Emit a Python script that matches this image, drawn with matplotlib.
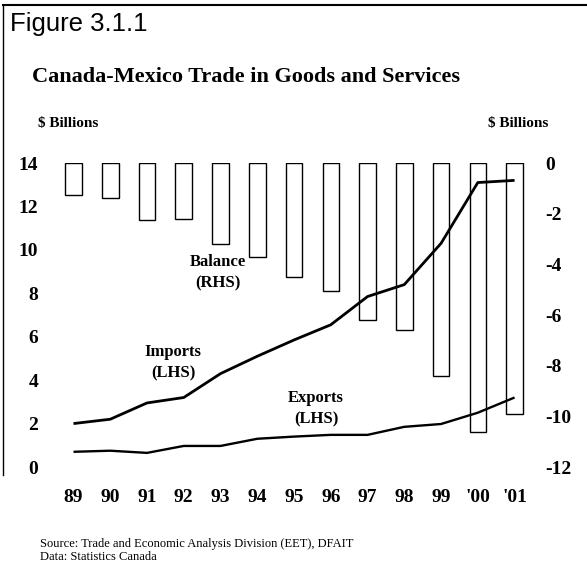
import matplotlib
matplotlib.use('Agg')
import matplotlib.pyplot as plt
from matplotlib.lines import Line2D

years = ['89', '90', '91', '92', '93', '94', '95', '96', '97', '98', '99', "'00", "'01"]
imports = [2.0, 2.2, 2.95, 3.2, 4.3, 5.1, 5.85, 6.55, 7.85, 8.4, 10.3, 13.1, 13.2]
exports = [0.7, 0.75, 0.65, 0.97, 0.97, 1.3, 1.4, 1.48, 1.48, 1.85, 1.98, 2.5, 3.2]
balance = [-1.25, -1.4, -2.25, -2.2, -3.2, -3.7, -4.5, -5.05, -6.2, -6.6, -8.4, -10.6, -9.9]
left_ticks = [0, 2, 4, 6, 8, 10, 12, 14]
right_ticks = [0, -2, -4, -6, -8, -10, -12]

W, H = 587, 562
serif = 'Liberation Serif'


def fx(px):
    return px / W


def fy(py):
    return 1 - py / H


fig = plt.figure(figsize=(W / 100, H / 100), dpi=100)

# frame pieces of the scanned page
fig.add_artist(Line2D([fx(3), 1.0], [fy(5), fy(5)], color='black', lw=1.5))
fig.add_artist(Line2D([fx(3), fx(3)], [fy(5), fy(475)], color='black', lw=1.0))

ax = fig.add_axes([fx(55), fy(467), fx(530) - fx(55), fy(163) - fy(467)])
ax2 = ax.twinx()

x = list(range(len(years)))

ax2.bar(x, balance, width=0.45, bottom=0, color='white', edgecolor='black', linewidth=1.0, zorder=1)
ax2.set_ylim(-12, 0)
ax2.set_yticks(right_ticks)
ax2.set_yticklabels([str(t) for t in right_ticks])

ax.set_zorder(ax2.get_zorder() + 1)
ax.patch.set_visible(False)
ax.plot(x, imports, color='black', lw=2.0, solid_capstyle='butt')
ax.plot(x, exports, color='black', lw=1.7, solid_capstyle='butt')
ax.set_ylim(0, 14)
ax.set_yticks(left_ticks)
ax.set_xlim(-0.503, 12.42)
ax.set_xticks(x)
ax.set_xticklabels(years)

for a in (ax, ax2):
    for s in a.spines.values():
        s.set_visible(False)
    a.tick_params(length=0, labelsize=14)
    for lab in a.get_xticklabels() + a.get_yticklabels():
        lab.set_fontfamily(serif)
        lab.set_fontweight('bold')
ax.tick_params(axis='y', pad=12)
ax.tick_params(axis='x', pad=16)
ax2.tick_params(axis='y', pad=11)

lab_kw = dict(fontfamily=serif, fontweight='bold', fontsize=12, ha='center', va='center',
              linespacing=1.45)
ax.text(3.93, 8.95, 'Balance\n(RHS)', **lab_kw)
ax.text(2.71, 4.8, 'Imports\n(LHS)', **lab_kw)
ax.text(6.6, 2.67, 'Exports\n(LHS)', **lab_kw)

fig.text(fx(10), fy(24), 'Figure 3.1.1', fontfamily='Liberation Sans', fontsize=18.5,
         ha='left', va='center')
fig.text(fx(32), fy(77), 'Canada-Mexico Trade in Goods and Services', fontfamily=serif,
         fontweight='bold', fontsize=16, ha='left', va='center')
fig.text(fx(38), fy(124), '$ Billions', fontfamily=serif, fontweight='bold', fontsize=11,
         ha='left', va='center')
fig.text(fx(488), fy(124), '$ Billions', fontfamily=serif, fontweight='bold', fontsize=11,
         ha='left', va='center')
fig.text(fx(40), fy(544), 'Source: Trade and Economic Analysis Division (EET), DFAIT',
         fontfamily=serif, fontsize=9, ha='left', va='center')
fig.text(fx(40), fy(557), 'Data: Statistics Canada', fontfamily=serif, fontsize=9,
         ha='left', va='center')

fig.savefig('out.png', dpi=100)
